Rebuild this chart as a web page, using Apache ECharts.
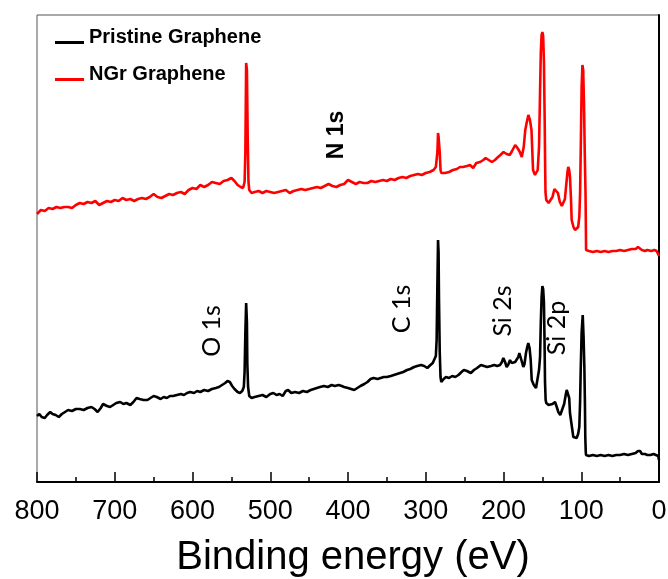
<!DOCTYPE html>
<html>
<head>
<meta charset="utf-8">
<title>XPS survey spectra</title>
<script src="https://cdn.jsdelivr.net/npm/echarts@6/dist/echarts.min.js"></script>
<style>
  html, body { margin: 0; padding: 0; background: #fff; }
  #chart { width: 668px; height: 579px; }
</style>
</head>
<body>
<div id="chart"></div>
<script>
// Series names shown in the legend
const seriesNames = ['Pristine Graphene', 'NGr Graphene'];

// X axis tick labels (binding energy, eV)
const energyTicks = [800, 700, 600, 500, 400, 300, 200, 100, 0];

// Pristine graphene survey: [binding energy (eV), intensity (a.u.)]
const pristine = [
  [800,66],[797,68],[794,65],[790,64],[787,67],[783,70],[780,68],[776,67],[772,65],[768,68],
  [764,70],[760,72],[755,71],[750,73],[745,73],[740,72],[735,74],[730,75],[726,73],[722,70],
  [718,74],[715,78],[710,76],[706,75],[702,77],[698,79],[693,80],[689,78],[685,79],[680,77],
  [676,80],[672,84],[668,83],[663,82],[658,82],[654,84],[650,86],[646,85],[641,83],[637,85],
  [633,84],[629,86],[625,86],[620,87],[615,88],[611,87],[607,89],[603,90],[598,89],[594,91],
  [590,90],[585,92],[580,91],[575,93],[570,94],[566,95],[562,97],[558,99],[555,101],[552,100],
  [549,96],[546,93],[542,90],[539,89],[536,91],[534,95],[533,110],[532,150],[531,179],[530,160],
  [529.5,119],[528.5,95],[527,86],[524,84],[520,85],[515,86],[510,87],[505,85],[500,88],[496,89],
  [492,87],[488,88],[484,86],[480,91],[477,92],[473,89],[468,90],[463,89],[458,91],[453,90],
  [448,92],[444,93],[440,94],[436,95],[431,96],[426,95],[421,97],[417,96],[412,97],[408,96],
  [405,95],[400,94],[396,93],[392,92],[388,94],[384,96],[379,98],[375,100],[371,103],[367,104],
  [362,103],[358,104],[354,105],[350,105],[345,106],[341,107],[337,108],[333,109],[329,110],[324,112],
  [320,113],[315,115],[311,116],[306,117],[302,116],[298,114],[294,117],[291,119],[289,121],[287,126],
  [286,142],[285,200],[284.2,242],[283.5,230],[283,185],[282,130],[281,105],[280,100],[277,103],[274,105],
  [270,104],[266,106],[262,105],[258,107],[254,110],[251,112],[247,111],[242,109],[238,112],[234,114],
  [229,117],[225,116],[221,115],[216,116],[212,117],[208,116],[204.5,117],[202,120],[200.2,124],[198,120],
  [195.9,115],[193.5,118],[191.6,122],[189.5,119],[187.4,117],[185,120],[183,122],[181,125],[179.6,129],[177,122],
  [174.5,115],[173,118],[171.1,129],[169.5,135],[168.1,139],[166.5,134],[165,122],[163.7,102],[161,97],[158.2,94],
  [156,96],[154.3,112],[153,125],[152,160],[151,185],[150,196],[149,193],[148,180],[147.2,140],[146.6,100],
  [145.8,82],[145,79],[142,77],[140.2,75],[137,78],[133.7,80],[131.5,75],[129.5,70],[127,67],[125.2,65],
  [122,78],[120,87],[118.7,92],[116.7,94],[115.5,84],[114.5,69],[112,55],[110.2,45],[108,44],[105.9,44],
  [104,48],[102.5,55],[101.5,80],[100.7,112],[99.5,150],[98.1,167],[97,145],[96,115],[95.3,80],[94.8,45],
  [94.2,30],[93.9,27],[90,26],[85,27],[80,26],[75,27],[70,26],[65,27],[60,26],[55,27],
  [50,27],[45,28],[40,27],[35,28],[30,29],[27,31],[24.4,31],[22,28],[18,28],[15,27],
  [11,27],[7,28],[4,27],[1,26],[0,22]
];

// N-doped graphene survey: [binding energy (eV), intensity (a.u.)]
const nitrogenDoped = [
  [800,268],[795,272],[790,271],[785,274],[780,273],[775,275],[770,274],[765,275],[760,275],[755,274],
  [750,277],[745,279],[740,278],[735,280],[730,279],[725,281],[720,277],[715,279],[710,281],[705,280],
  [700,282],[695,281],[690,284],[685,282],[680,283],[675,281],[670,283],[665,284],[660,283],[655,285],
  [650,288],[645,285],[640,284],[635,286],[630,288],[625,287],[620,289],[615,290],[610,288],[605,292],
  [600,294],[595,293],[590,297],[585,295],[580,297],[575,300],[570,299],[565,298],[560,301],[555,302],
  [550,304],[546,301],[542,297],[538,295],[535,294],[533,300],[532,330],[531,419],[530,412],[529,345],
  [528,300],[527,292],[524,289],[520,290],[515,291],[510,289],[505,291],[500,290],[495,289],[490,290],
  [485,291],[480,292],[475,289],[470,291],[465,292],[460,293],[455,292],[450,293],[445,294],[440,295],
  [435,294],[430,296],[425,298],[420,296],[415,295],[410,297],[405,298],[400,302],[395,300],[390,298],
  [385,300],[380,299],[375,299],[370,301],[365,300],[360,301],[355,302],[350,301],[345,303],[340,302],
  [335,304],[330,305],[325,304],[320,306],[315,307],[310,308],[305,307],[300,309],[295,310],[290,312],
  [287,315],[285,330],[284.2,349],[283.5,345],[282,330],[281,312],[280,309],[275,309],[270,310],[265,312],
  [260,313],[256,315],[252,315],[247,316],[243,317],[239,314],[235,319],[230,320],[226,322],[223,324],
  [219,322],[215,320],[211,322],[207,325],[204,327],[200,330],[196,328],[192,327],[189,331],[185,337],
  [182,334],[179,330],[176.5,325],[174,335],[172,352],[170,360],[168,367],[166,362],[164,352],[162,312],
  [159.5,307],[157.5,305],[156,312],[154.3,335],[153,390],[152,430],[151,447],[150,450],[149,446],[148,420],
  [147,360],[146.5,320],[146,290],[145,282],[142,279],[140,279],[137,285],[134.5,293],[132.5,295],[130,289],
  [127.5,280],[125,276],[123,274],[121,283],[119.6,295],[117.7,310],[116.7,315],[115.5,312],[114.5,305],[113.3,285],
  [112.3,262],[110,255],[108,252],[106,252],[104,255],[102.5,265],[101.5,289],[100.5,340],[99.5,395],[98.5,417],
  [97.5,412],[96.5,380],[95.5,330],[94.5,289],[94,250],[93.8,232],[90,231],[85,230],[80,231],[75,230],
  [70,231],[65,230],[60,231],[55,231],[50,232],[45,231],[40,232],[35,233],[30,233],[27,235],
  [25,234],[22,232],[18,231],[15,232],[10,231],[6,232],[3,231],[0,226]
];

// Peak assignments: label, binding energy (eV), intensity position
const peakLabels = ['N 1s', 'O 1s', 'C 1s', 'Si 2s', 'Si 2p'];
const peakEnergy = [415, 575, 330.5, 200.6, 131.2];
const peakLevel  = [347, 151, 173, 171, 154];
const peakBold   = [true, false, false, false, false];

const chart = echarts.init(document.getElementById('chart'), null, { renderer: 'canvas' });

const sansFont = 'Arial, "Liberation Sans", sans-serif';

const option = {
  backgroundColor: '#ffffff',
  animation: false,
  grid: {
    left: 37, right: 9, top: 15, bottom: 97,
    containLabel: false,
    outerBoundsMode: 'none',
    show: true, borderColor: '#555', borderWidth: 1
  },
  legend: {
    data: seriesNames,
    orient: 'vertical',
    left: 50, top: 22,
    itemWidth: 29, itemHeight: 3,
    itemGap: 6, itemTextGap: 4,
    icon: 'rect',
    // text is lifted above the line sample, which sits near the baseline
    formatter: name => '{t|' + name + '}',
    textStyle: {
      rich: {
        t: {
          color: '#000', fontSize: 20, fontWeight: 'bold',
          fontFamily: sansFont, lineHeight: 20,
          padding: [0, 0, 11, 0]
        }
      }
    }
  },
  xAxis: {
    type: 'value',
    inverse: true,
    min: 0, max: 800, interval: 100,
    name: 'Binding energy (eV)',
    nameLocation: 'middle',
    nameGap: 56,
    nameTextStyle: { color: '#000', fontSize: 40, fontFamily: sansFont, padding: [0, 0, 0, 10] },
    axisLine: { show: true, lineStyle: { color: '#000', width: 2 } },
    axisTick: { show: true, inside: true, length: 10, lineStyle: { color: '#000', width: 1.5 } },
    minorTick: { show: true, splitNumber: 2, length: 5, lineStyle: { color: '#000', width: 1.5 } },
    splitLine: { show: false },
    axisLabel: {
      color: '#000', fontSize: 27, margin: 16,
      fontFamily: sansFont,
      formatter: v => energyTicks.indexOf(v) >= 0 ? String(v) : ''
    }
  },
  yAxis: {
    type: 'value',
    min: 0, max: 467,
    axisLine: { show: true, lineStyle: { color: '#000', width: 2 } },
    axisTick: { show: false },
    axisLabel: { show: false },
    splitLine: { show: false }
  },
  series: [
    {
      name: seriesNames[0], type: 'line', data: pristine,
      showSymbol: false, color: '#000',
      lineStyle: { color: '#000', width: 2.6 }, z: 3
    },
    {
      name: seriesNames[1], type: 'line', data: nitrogenDoped,
      showSymbol: false, color: '#ff0000',
      lineStyle: { color: '#ff0000', width: 2.6 }, z: 2
    }
  ]
};

chart.setOption(option);

// Rotated peak assignment labels placed at their data positions
const labelGraphics = peakLabels.map((txt, i) => {
  const p = chart.convertToPixel({ gridIndex: 0 }, [peakEnergy[i], peakLevel[i]]);
  return {
    type: 'text',
    x: p[0], y: p[1],
    rotation: Math.PI / 2,
    style: {
      text: txt,
      fill: '#000',
      fontSize: peakBold[i] ? 23 : 25,
      fontWeight: peakBold[i] ? 'bold' : 'normal',
      fontFamily: peakBold[i] ? sansFont : 'Lato, "Open Sans", sans-serif',
      align: 'center',
      verticalAlign: 'middle'
    },
    z: 10
  };
});
chart.setOption({ graphic: labelGraphics });
</script>
</body>
</html>
